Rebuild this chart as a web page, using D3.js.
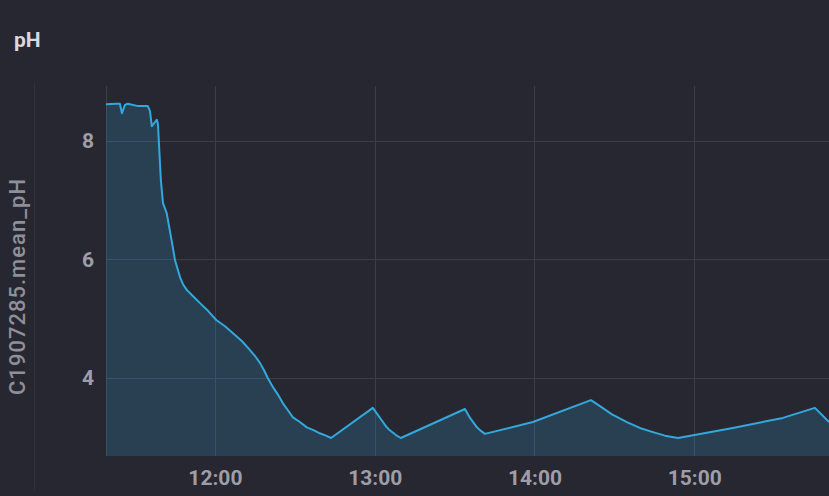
<!DOCTYPE html>
<html>
<head>
<meta charset="utf-8">
<script src="https://cdn.jsdelivr.net/npm/d3@7"></script>
<style>
  html, body { margin: 0; padding: 0; background: #272731; }
  svg { display: block; }
</style>
</head>
<body>
<svg id="chart" width="829" height="496"></svg>
<script>
// ---- data ----
const times = [
  "11:19:06","11:22:48","11:24:18","11:25:06","11:26:12","11:27:18","11:31:06","11:34:48",
  "11:35:36","11:36:18","11:37:30","11:38:12","11:38:36","11:39:42","11:40:30","11:41:54",
  "11:43:42","11:45:00","11:46:06","11:46:54","11:48:00","11:49:30","11:51:42","11:54:24",
  "11:57:24","12:00:36","12:03:48","12:06:48","12:10:06","12:13:06","12:15:00","12:16:54",
  "12:18:24","12:19:54","12:21:48","12:23:42","12:25:30","12:27:24","12:29:18","12:31:54",
  "12:34:30","12:37:12","12:39:24","12:41:42","12:43:36",
  "12:59:18","13:03:06","13:04:12","13:05:42","13:08:00","13:09:48",
  "13:33:54","13:35:48","13:38:24","13:39:54","13:41:24","13:59:24",
  "14:21:12","14:24:36","14:29:06","14:34:42","14:39:36","14:44:30","14:49:00","14:53:54",
  "15:14:30","15:33:18","15:45:18","15:50:36"
];
const phValues = [
  8.62,8.63,8.63,8.47,8.61,8.63,8.59,8.59,
  8.51,8.25,8.32,8.36,8.29,7.34,6.95,6.78,
  6.33,5.99,5.82,5.70,5.58,5.48,5.38,5.26,
  5.13,4.97,4.87,4.75,4.62,4.47,4.37,4.25,
  4.13,3.99,3.84,3.71,3.57,3.45,3.33,3.25,
  3.16,3.11,3.06,3.02,2.98,
  3.49,3.25,3.18,3.11,3.03,2.98,
  3.47,3.32,3.16,3.10,3.05,3.25,
  3.62,3.52,3.38,3.25,3.15,3.08,3.02,2.98,
  3.15,3.32,3.49,3.25
];
const yTicks = [4, 6, 8];
const xTickLabels = ["12:00", "13:00", "14:00", "15:00"];
const xDomain = ["11:19:06", "15:50:36"];
const yDomain = [2.676, 8.93];
const panelTitle = "pH";
const yAxisTitle = "C1907285.mean_pH";

// ---- setup ----
const parse = d3.timeParse("%Y-%m-%d %H:%M:%S");
const toDate = s => parse("2020-01-01 " + (s.length === 5 ? s + ":00" : s));
const data = times.map((t, i) => ({ t: toDate(t), v: phValues[i] }));

const svg = d3.select("#chart");
const W = 829, H = 496;
const pLeft = 106, pRight = 829, pTop = 86, pBottom = 456;

svg.append("rect").attr("width", W).attr("height", H).attr("fill", "#272731");

const x = d3.scaleTime().domain(xDomain.map(toDate)).range([pLeft, pRight]);
const y = d3.scaleLinear().domain(yDomain).range([pBottom, pTop]);

// panel title
svg.append("text")
  .attr("x", 14).attr("y", 47)
  .attr("fill", "#d8d9e0")
  .attr("font-family", "Roboto, 'Noto Sans', sans-serif")
  .attr("font-weight", 700)
  .attr("font-size", 21)
  .text(panelTitle);

// divider line for axis title area
svg.append("line")
  .attr("x1", 34.5).attr("x2", 34.5).attr("y1", 82).attr("y2", 490)
  .attr("stroke", "#30313b").attr("stroke-width", 1);

// grid
const grid = svg.append("g");
grid.selectAll("line.h").data(yTicks).join("line")
  .attr("x1", pLeft).attr("x2", pRight)
  .attr("y1", d => Math.round(y(d)) + 0.5).attr("y2", d => Math.round(y(d)) + 0.5)
  .attr("stroke", "#3b3d49").attr("stroke-width", 1);
const xTickDates = xTickLabels.map(toDate);
grid.selectAll("line.v").data(xTickDates).join("line")
  .attr("x1", d => Math.round(x(d)) + 0.5).attr("x2", d => Math.round(x(d)) + 0.5)
  .attr("y1", pTop).attr("y2", pBottom)
  .attr("stroke", "#3b3d49").attr("stroke-width", 1);
grid.append("line")
  .attr("x1", pLeft + 0.5).attr("x2", pLeft + 0.5).attr("y1", pTop).attr("y2", pBottom)
  .attr("stroke", "#3b3d49").attr("stroke-width", 1);

// clip
svg.append("clipPath").attr("id", "clip")
  .append("rect").attr("x", pLeft).attr("y", pTop).attr("width", pRight - pLeft).attr("height", pBottom - pTop);

const area = d3.area().x(d => x(d.t)).y0(pBottom).y1(d => y(d.v));
const line = d3.line().x(d => x(d.t)).y(d => y(d.v));

const plot = svg.append("g").attr("clip-path", "url(#clip)");
plot.append("path").datum(data).attr("d", area)
  .attr("fill", "#2fa4d8").attr("fill-opacity", 0.2);
plot.append("path").datum(data).attr("d", line)
  .attr("fill", "none").attr("stroke", "#33a8dc").attr("stroke-width", 2)
  .attr("stroke-linejoin", "round");

// axes
const yAxis = d3.axisLeft(y).tickValues(yTicks).tickSize(0).tickPadding(12).tickFormat(d3.format("d"));
const gy = svg.append("g").attr("transform", `translate(${pLeft},0)`).call(yAxis);
gy.select(".domain").remove();
gy.selectAll("text")
  .attr("fill", "#9d9ea8")
  .attr("font-family", "Roboto, sans-serif")
  .attr("font-weight", 700)
  .attr("font-size", 21);

const xAxis = d3.axisBottom(x).tickValues(xTickDates).tickSize(0).tickPadding(14).tickFormat(d3.timeFormat("%H:%M"));
const gx = svg.append("g").attr("transform", `translate(0,${pBottom})`).call(xAxis);
gx.select(".domain").remove();
gx.selectAll("text")
  .attr("fill", "#9d9ea8")
  .attr("font-family", "Roboto, sans-serif")
  .attr("font-weight", 700)
  .attr("font-size", 21);

// y axis title
svg.append("text")
  .attr("transform", `translate(25,287) rotate(-90)`)
  .attr("text-anchor", "middle")
  .attr("fill", "#8e8f99")
  .attr("font-family", "Roboto, sans-serif")
  .attr("font-weight", 500)
  .attr("font-size", 22)
  .attr("textLength", 216)
  .attr("lengthAdjust", "spacing")
  .text(yAxisTitle);
</script>
</body>
</html>
